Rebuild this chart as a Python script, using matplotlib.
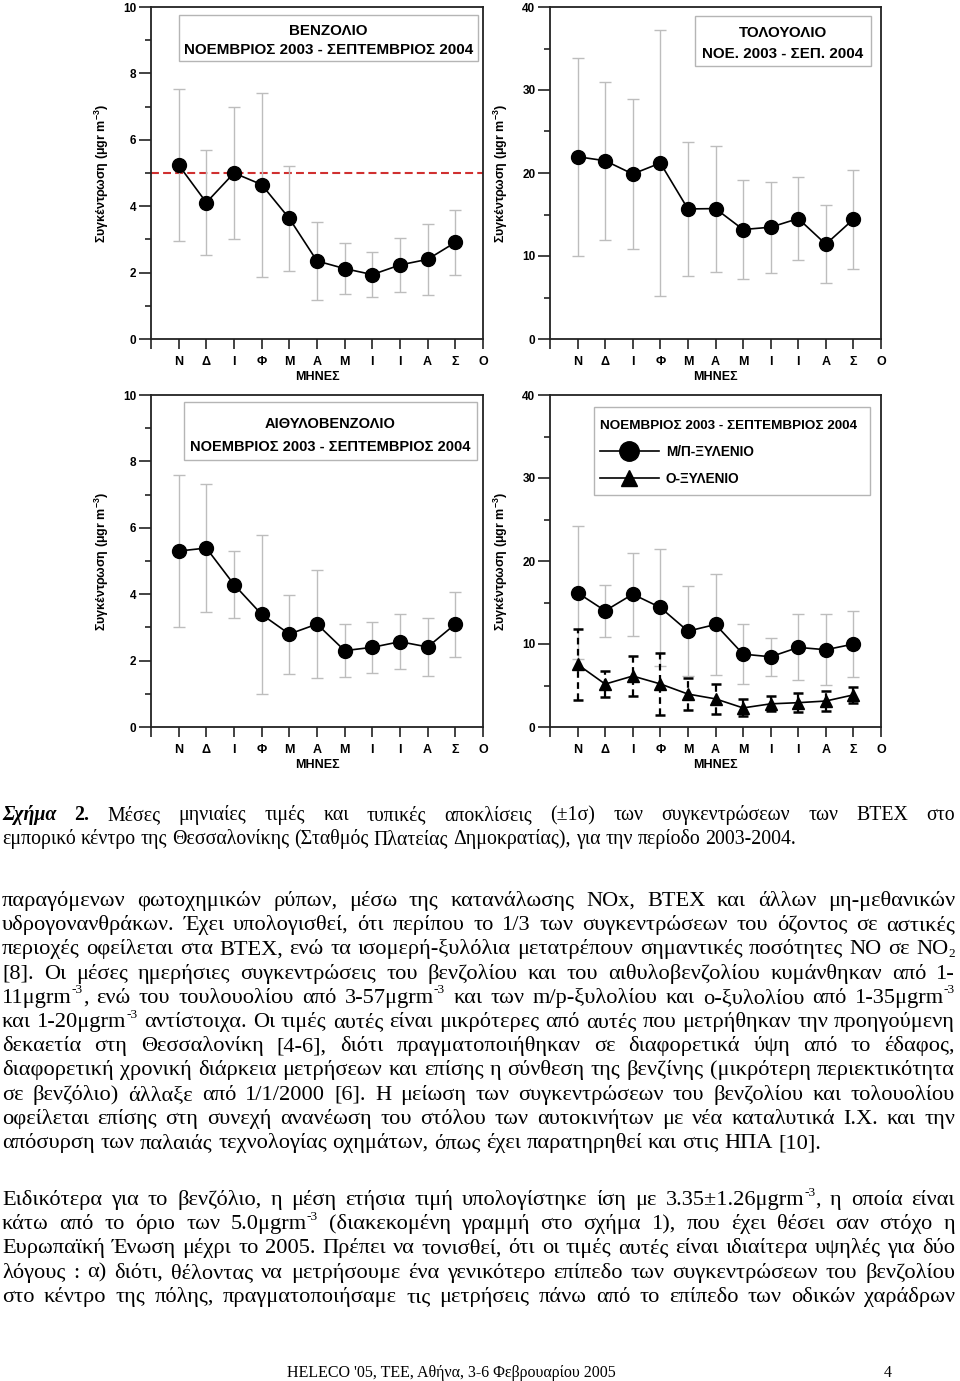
import re
import numpy as np
import matplotlib
matplotlib.use('Agg')
import matplotlib.pyplot as plt
from matplotlib.lines import Line2D
from matplotlib.patches import Rectangle
from matplotlib import font_manager

# month initials on the x axis (Nov 2003 .. Oct 2004)
months = ['Ν', 'Δ', 'Ι', 'Φ', 'Μ', 'Α', 'Μ', 'Ι', 'Ι', 'Α', 'Σ', 'Ο']

# monthly means and standard deviations (μgr m-3), Nov .. Sep
benzene = [5.24, 4.11, 5.00, 4.65, 3.63, 2.35, 2.12, 1.94, 2.23, 2.40, 2.91]
benzene_sd = [2.28, 1.57, 2.00, 2.77, 1.57, 1.18, 0.77, 0.67, 0.81, 1.06, 0.97]
toluene = [21.96, 21.48, 19.88, 21.20, 15.67, 15.71, 13.19, 13.47, 14.51, 11.42, 14.43]
toluene_sd = [11.95, 9.50, 8.98, 16.00, 8.02, 7.58, 5.97, 5.49, 4.97, 4.69, 5.97]
ethylbenzene = [5.30, 5.39, 4.29, 3.39, 2.80, 3.10, 2.30, 2.40, 2.57, 2.41, 3.10]
ethylbenzene_sd = [2.28, 1.94, 1.01, 2.39, 1.19, 1.62, 0.79, 0.76, 0.83, 0.87, 0.98]
mp_xylene = [16.17, 14.00, 16.00, 14.40, 11.55, 12.35, 8.78, 8.46, 9.59, 9.31, 9.99]
mp_xylene_sd = [8.02, 3.13, 5.02, 7.06, 5.42, 6.06, 3.61, 2.29, 3.97, 4.29, 4.01]
o_xylene = [7.54, 5.17, 6.14, 5.19, 3.97, 3.39, 2.30, 2.79, 2.93, 3.13, 3.87]
o_xylene_sd = [4.25, 1.60, 2.37, 3.71, 1.89, 1.79, 1.02, 0.90, 1.12, 1.24, 0.98]
eu_limit = 5.0

# page text; ^{..} marks a superscript, _{..} a subscript
caption_lines = [
    "Σχήμα 2. Μέσες μηνιαίες τιμές και τυπικές αποκλίσεις (±1σ) των συγκεντρώσεων των BTEX στο",
    "εμπορικό κέντρο της Θεσσαλονίκης (Σταθμός Πλατείας Δημοκρατίας), για την περίοδο 2003-2004.",
]
para1_lines = [
    "παραγόμενων φωτοχημικών ρύπων, μέσω της κατανάλωσης NOx, BTEX και άλλων μη-μεθανικών",
    "υδρογονανθράκων. Έχει υπολογισθεί, ότι περίπου το 1/3 των συγκεντρώσεων του όζοντος σε αστικές",
    "περιοχές οφείλεται στα BTEX, ενώ τα ισομερή-ξυλόλια μετατρέπουν σημαντικές ποσότητες NO σε NO_{2}",
    "[8]. Οι μέσες ημερήσιες συγκεντρώσεις του βενζολίου και του αιθυλοβενζολίου κυμάνθηκαν από 1-",
    "11μgrm^{-3}, ενώ του τουλουολίου από 3-57μgrm^{-3} και των m/p-ξυλολίου και o-ξυλολίου από 1-35μgrm^{-3}",
    "και 1-20μgrm^{-3} αντίστοιχα. Οι τιμές αυτές είναι μικρότερες από αυτές που μετρήθηκαν την προηγούμενη",
    "δεκαετία στη Θεσσαλονίκη [4-6], διότι πραγματοποιήθηκαν σε διαφορετικά ύψη από το έδαφος,",
    "διαφορετική χρονική διάρκεια μετρήσεων και επίσης η σύνθεση της βενζίνης (μικρότερη περιεκτικότητα",
    "σε βενζόλιο) άλλαξε από 1/1/2000 [6]. Η μείωση των συγκεντρώσεων του βενζολίου και τολουολίου",
    "οφείλεται επίσης στη συνεχή ανανέωση του στόλου των αυτοκινήτων με νέα καταλυτικά Ι.Χ. και την",
    "απόσυρση των παλαιάς τεχνολογίας οχημάτων, όπως έχει παρατηρηθεί και στις ΗΠΑ [10].",
]
para2_lines = [
    "Ειδικότερα για το βενζόλιο, η μέση ετήσια τιμή υπολογίστηκε ίση με 3.35±1.26μgrm^{-3}, η οποία είναι",
    "κάτω από το όριο των 5.0μgrm^{-3} (διακεκομένη γραμμή στο σχήμα 1), που έχει θέσει σαν στόχο η",
    "Ευρωπαϊκή Ένωση μέχρι το 2005. Πρέπει να τονισθεί, ότι οι τιμές αυτές είναι ιδιαίτερα υψηλές για δύο",
    "λόγους : α) διότι, θέλοντας να μετρήσουμε ένα γενικότερο επίπεδο των συγκεντρώσεων του βενζολίου",
    "στο κέντρο της πόλης, πραγματοποιήσαμε τις μετρήσεις πάνω από το επίπεδο των οδικών χαράδρων",
]
footer_text = "HELECO '05, ΤΕΕ, Αθήνα, 3-6 Φεβρουαρίου 2005"
page_number = "4"


def pick_font(names, default):
    for n in names:
        try:
            font_manager.findfont(font_manager.FontProperties(family=n), fallback_to_default=False)
            return n
        except ValueError:
            pass
    return default


W, H = 960, 1381
plt.rcParams['font.family'] = ['Liberation Sans', 'DejaVu Sans']
narrow = pick_font(['Liberation Sans Narrow', 'Arial Narrow', 'Nimbus Sans Narrow'], 'Liberation Sans')

fig = plt.figure(figsize=(W / 100, H / 100), dpi=100)
renderer = fig.canvas.get_renderer()
x = np.arange(1, len(benzene) + 1)


def px_axes(left, top, right, bottom):
    return fig.add_axes([left / W, 1 - bottom / H, (right - left) / W, (bottom - top) / H])


def setup(ax, ymax, ystep):
    ax.set_xlim(0, 12)
    ax.set_ylim(0, ymax)
    ax.set_xticks(np.arange(13))
    ax.set_xticklabels([''] + months, fontweight='bold', fontsize=9)
    ax.set_yticks(np.arange(0, ymax + 0.01, ystep))
    ax.set_yticks(np.arange(ystep / 2, ymax, ystep), minor=True)
    ax.set_yticklabels([f'{v:g}' for v in np.arange(0, ymax + 0.01, ystep)],
                       fontweight='bold', fontsize=8.5)
    ax.tick_params(axis='x', direction='out', length=7, width=1.2, pad=5, color='#222')
    ax.tick_params(axis='y', which='major', direction='out', length=8.5, width=1.2, pad=2, color='#222')
    ax.tick_params(axis='y', which='minor', direction='out', length=4.5, width=1.2, color='#222')
    ax.set_xlabel('ΜΗΝΕΣ', fontweight='bold', fontsize=9, labelpad=2.5)
    ax.set_ylabel('Συγκέντρωση (μgr m$^{\\mathregular{-3}}$)', fontweight='bold',
                  fontsize=9, labelpad=9)
    for s in ax.spines.values():
        s.set_linewidth(1.3)
        s.set_color('#222')


def series(ax, y, sd, marker='o', ms=10):
    ax.errorbar(x, y, yerr=sd, fmt='none', ecolor='#bdbdbd', elinewidth=1,
                capsize=4, capthick=1, zorder=2)
    ax.plot(x, y, '-', color='k', lw=1.2, marker=marker, ms=ms, zorder=3)


def frame(ax, box):
    x0, y0, x1, y1 = box
    ax.add_patch(Rectangle((x0, y1), x1 - x0, y0 - y1, transform=ax.transAxes,
                           fill=False, edgecolor='#b5b5b5', lw=1.0, zorder=5))


def title_box(ax, box, lines, ys, target_w, family):
    frame(ax, box)
    cx = (box[0] + box[2]) / 2
    t2 = ax.text(cx, ys[1], lines[1], transform=ax.transAxes, ha='center', va='center',
                 family=family, fontweight='bold', fontsize=10, zorder=6)
    size = 10 * target_w / t2.get_window_extent(renderer).width
    t2.set_fontsize(size)
    ax.text(cx, ys[0], lines[0], transform=ax.transAxes, ha='center', va='center',
            family=family, fontweight='bold', fontsize=size, zorder=6)


# benzene
ax1 = px_axes(151, 7, 483, 339)
setup(ax1, 10, 2)
ax1.axhline(eu_limit, color='#d03030', lw=1.5, dashes=[3.8, 2], zorder=1)
series(ax1, benzene, benzene_sd)
title_box(ax1, (0.084, 0.976, 0.985, 0.837), ['ΒΕΝΖΟΛΙΟ', 'ΝΟΕΜΒΡΙΟΣ 2003 - ΣΕΠΤΕΜΒΡΙΟΣ 2004'],
          (0.928, 0.870), 287, 'Liberation Sans')

# toluene
ax2 = px_axes(550, 7, 881, 339)
setup(ax2, 40, 10)
series(ax2, toluene, toluene_sd)
title_box(ax2, (0.437, 0.973, 0.970, 0.822), ['ΤΟΛΟΥΟΛΙΟ', 'ΝΟΕ. 2003 - ΣΕΠ. 2004'],
          (0.922, 0.858), 161, 'Liberation Sans')

# ethylbenzene
ax3 = px_axes(151, 395, 483, 727)
setup(ax3, 10, 2)
series(ax3, ethylbenzene, ethylbenzene_sd)
title_box(ax3, (0.099, 0.979, 0.982, 0.804), ['ΑΙΘΥΛΟΒΕΝΖΟΛΙΟ', 'ΝΟΕΜΒΡΙΟΣ 2003 - ΣΕΠΤΕΜΒΡΙΟΣ 2004'],
          (0.913, 0.843), 277, narrow)

# xylenes
ax4 = px_axes(550, 395, 881, 727)
setup(ax4, 40, 10)
series(ax4, mp_xylene, mp_xylene_sd)
eb = ax4.errorbar(x, o_xylene, yerr=o_xylene_sd, fmt='none', ecolor='k', elinewidth=1.6,
                  capsize=3.5, capthick=1.8, zorder=2)
eb[2][0].set_linestyle((0, (3, 2)))
ax4.plot(x, o_xylene, '-', color='k', lw=1.2, marker='^', ms=9, zorder=3)
frame(ax4, (0.133, 0.964, 0.967, 0.699))
handles = [Line2D([], [], color='k', lw=1.2, marker='o', ms=14),
           Line2D([], [], color='k', lw=1.2, marker='^', ms=12)]
leg = ax4.legend(handles, ['Μ/Π-ΞΥΛΕΝΙΟ', 'Ο-ΞΥΛΕΝΙΟ'],
                 title='ΝΟΕΜΒΡΙΟΣ 2003 - ΣΕΠΤΕΜΒΡΙΟΣ 2004', alignment='left',
                 loc='upper left', bbox_to_anchor=(0.151, 0.925), frameon=False,
                 handlelength=4.3, handletextpad=0.55, labelspacing=0.95, borderpad=0,
                 borderaxespad=0,
                 prop=dict(family=narrow, weight='bold', size=9.8),
                 title_fontproperties=dict(family=narrow, weight='bold', size=9.7))

# ---- page text below the figure ----
serif = ['Liberation Serif', 'DejaVu Serif']


def fig_text(xp, yp, s, **kw):
    return fig.text(xp / W, 1 - yp / H, s, va='baseline', family=serif, **kw)


def fit_size(s, width_px, **kw):
    probe = fig_text(0, 0, s, fontsize=14, **kw)
    size = 14 * width_px / probe.get_window_extent(renderer).width
    probe.remove()
    return size


def word_parts(word):
    # split a word into (text, kind) pieces: kind is '', '^' or '_'
    parts = []
    for piece in re.split(r'(\^\{[^}]*\}|_\{[^}]*\})', word):
        if not piece:
            continue
        if piece[0] in '^_' and piece[1:2] == '{':
            parts.append((piece[2:-1], piece[0]))
        else:
            parts.append((piece, ''))
    return parts


def draw_line(line, y_center, justify, size, styles=None, x0=2, x1=955):
    styles = styles or {}
    em = size * 100 / 72
    words = []
    for i, w in enumerate(line.split(' ')):
        pieces = []
        for s, kind in word_parts(w):
            fs = size * 0.6 if kind else size
            t = fig_text(0, 0, s, fontsize=fs, **styles.get(i, {}))
            rise = {'': 0, '^': 0.42 * em, '_': -0.12 * em}[kind]
            pieces.append((t, t.get_window_extent(renderer).width, rise))
        words.append(pieces)
    widths = [sum(p[1] for p in pieces) for pieces in words]
    gap = (x1 - x0 - sum(widths)) / (len(words) - 1) if justify else 0.25 * em
    base = y_center + 6
    xp = x0
    for pieces, w in zip(words, widths):
        xq = xp
        for t, tw, rise in pieces:
            t.set_position((xq / W, 1 - (base - rise) / H))
            xq += tw
        xp += w + gap


# font sizes chosen so the unjustified lines have their printed widths
caption_size = fit_size(caption_lines[1], 800)
body_size = fit_size(para1_lines[-1], 820)

line_step = 24.2
cap_styles = {0: dict(fontweight='bold', fontstyle='italic'), 1: dict(fontweight='bold')}
draw_line(caption_lines[0], 814, True, caption_size, cap_styles)
draw_line(caption_lines[1], 814 + line_step, False, caption_size)
for i, ln in enumerate(para1_lines):
    draw_line(ln, 900 + i * line_step, i < len(para1_lines) - 1, body_size)
for i, ln in enumerate(para2_lines):
    draw_line(ln, 1199 + i * line_step, True, body_size)

fsize = fit_size(footer_text, 332)
fig_text(287, 1377, footer_text, fontsize=fsize)
fig_text(884, 1377, page_number, fontsize=fsize)

fig.savefig('out.png', dpi=100)
